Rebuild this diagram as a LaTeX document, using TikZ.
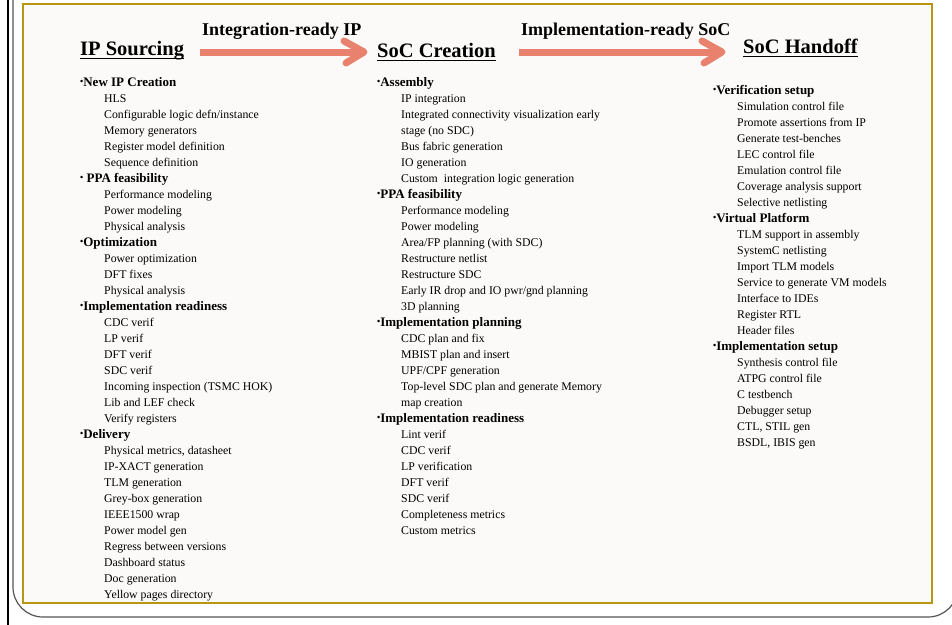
\documentclass[tikz,border=0pt]{standalone}
\usepackage{fontspec}
\setmainfont{Liberation Serif}
\definecolor{gold}{HTML}{B8960F}
\definecolor{salmon}{HTML}{E8826F}
\definecolor{paper}{HTML}{FBFAF8}
\definecolor{framegray}{HTML}{555555}
\newcommand{\bul}{{\fontsize{9}{9}\selectfont\raisebox{0.22em}{•}}}
\newcommand{\Cat}[4]{\node[cat] (#1) at (#2,#3) {\bul#4};}
\newcommand{\Itm}[4]{\node[item] (#1) at (#2,#3) {#4};}
\begin{document}
\begin{tikzpicture}[x=1pt,y=-1pt,
  item/.style={anchor=base west, inner sep=0pt, font=\fontsize{11.8}{14}\selectfont},
  cat/.style={anchor=base west, inner sep=0pt, font=\fontsize{13}{15}\selectfont\bfseries},
  title/.style={anchor=base west, inner sep=0pt, font=\fontsize{20.5}{24}\selectfont\bfseries},
  flowlabel/.style={anchor=base west, inner sep=0pt, font=\fontsize{18}{22}\selectfont\bfseries},
  shaft/.style={draw=salmon, line width=7pt},
  arrowhead/.style={draw=salmon, line width=7pt, line cap=round, line join=round},
  uline/.style={draw=black, line width=1.6pt}]
\useasboundingbox (0,0) rectangle (952,624);
\begin{scope}
\clip (0,0) rectangle (952,624);
\fill[white] (0,0) rectangle (952,624);
\draw[black, line width=2pt] (7.5,-5) -- (7.5,630);
\draw[framegray, line width=1.2pt, rounded corners=30pt] (13,-60) -- (13,617) -- (958,617) -- (958,-60);
\draw[gold, line width=2.8pt, fill=paper] (23,4) rectangle (932,603);
\end{scope}

% titles
\node[title] (t1) at (80,55) {IP Sourcing};
\node[title] (t2) at (377,57) {SoC Creation};
\node[title] (t3) at (743,53) {SoC Handoff};
\foreach \n in {t1,t2,t3}
  \draw[uline] ([yshift=-3.5pt]\n.base west) -- ([yshift=-3.5pt]\n.base east);

\node[flowlabel] (l1) at (202,35) {Integration-ready IP};
\node[flowlabel] (l2) at (521,35) {Implementation-ready SoC};

% arrows
\coordinate (a1s) at (200,52);
\coordinate (a1t) at (364,52);
\coordinate (a1u) at (344,41);
\coordinate (a1d) at (346,63);
\coordinate (a2s) at (519,52);
\coordinate (a2t) at (722,52);
\coordinate (a2u) at (702,41);
\coordinate (a2d) at (704,63);
\draw[shaft] (a1s) -- (a1t);
\draw[arrowhead] (a1u) -- (a1t) -- (a1d);
\draw[shaft] (a2s) -- (a2t);
\draw[arrowhead] (a2u) -- (a2t) -- (a2d);

% column 1
\Cat{c1a}{80}{86}{New IP Creation}
\Itm{c1a1}{104}{102}{HLS}
\Itm{c1a2}{104}{118}{Configurable logic defn/instance}
\Itm{c1a3}{104}{134}{Memory generators}
\Itm{c1a4}{104}{150}{Register model definition}
\Itm{c1a5}{104}{166}{Sequence definition}
\Cat{c1b}{80}{182}{ PPA feasibility}
\Itm{c1b1}{104}{198}{Performance modeling}
\Itm{c1b2}{104}{214}{Power modeling}
\Itm{c1b3}{104}{230}{Physical analysis}
\Cat{c1c}{80}{246}{Optimization}
\Itm{c1c1}{104}{262}{Power optimization}
\Itm{c1c2}{104}{278}{DFT fixes}
\Itm{c1c3}{104}{294}{Physical analysis}
\Cat{c1d}{80}{310}{Implementation readiness}
\Itm{c1d1}{104}{326}{CDC verif}
\Itm{c1d2}{104}{342}{LP verif}
\Itm{c1d3}{104}{358}{DFT verif}
\Itm{c1d4}{104}{374}{SDC verif}
\Itm{c1d5}{104}{390}{Incoming inspection (TSMC HOK)}
\Itm{c1d6}{104}{406}{Lib and LEF check}
\Itm{c1d7}{104}{422}{Verify registers}
\Cat{c1e}{80}{438}{Delivery}
\Itm{c1e1}{104}{454}{Physical metrics, datasheet}
\Itm{c1e2}{104}{470}{IP-XACT generation}
\Itm{c1e3}{104}{486}{TLM generation}
\Itm{c1e4}{104}{502}{Grey-box generation}
\Itm{c1e5}{104}{518}{IEEE1500 wrap}
\Itm{c1e6}{104}{534}{Power model gen}
\Itm{c1e7}{104}{550}{Regress between versions}
\Itm{c1e8}{104}{566}{Dashboard status}
\Itm{c1e9}{104}{582}{Doc generation}
\Itm{c1e10}{104}{598}{Yellow pages directory}

% column 2
\Cat{c2a}{377}{86}{Assembly}
\Itm{c2a1}{401}{102}{IP integration}
\Itm{c2a2}{401}{118}{Integrated connectivity visualization early}
\Itm{c2a3}{401}{134}{stage (no SDC)}
\Itm{c2a4}{401}{150}{Bus fabric generation}
\Itm{c2a5}{401}{166}{IO generation}
\Itm{c2a6}{401}{182}{Custom\ \ integration logic generation}
\Cat{c2b}{377}{198}{PPA feasibility}
\Itm{c2b1}{401}{214}{Performance modeling}
\Itm{c2b2}{401}{230}{Power modeling}
\Itm{c2b3}{401}{246}{Area/FP planning (with SDC)}
\Itm{c2b4}{401}{262}{Restructure netlist}
\Itm{c2b5}{401}{278}{Restructure SDC}
\Itm{c2b6}{401}{294}{Early IR drop and IO pwr/gnd planning}
\Itm{c2b7}{401}{310}{3D planning}
\Cat{c2c}{377}{326}{Implementation planning}
\Itm{c2c1}{401}{342}{CDC plan and fix}
\Itm{c2c2}{401}{358}{MBIST plan and insert}
\Itm{c2c3}{401}{374}{UPF/CPF generation}
\Itm{c2c4}{401}{390}{Top-level SDC plan and generate Memory}
\Itm{c2c5}{401}{406}{map creation}
\Cat{c2d}{377}{422}{Implementation readiness}
\Itm{c2d1}{401}{438}{Lint verif}
\Itm{c2d2}{401}{454}{CDC verif}
\Itm{c2d3}{401}{470}{LP verification}
\Itm{c2d4}{401}{486}{DFT verif}
\Itm{c2d5}{401}{502}{SDC verif}
\Itm{c2d6}{401}{518}{Completeness metrics}
\Itm{c2d7}{401}{534}{Custom metrics}

% column 3
\Cat{c3a}{713}{94}{Verification setup}
\Itm{c3a1}{737}{110}{Simulation control file}
\Itm{c3a2}{737}{126}{Promote assertions from IP}
\Itm{c3a3}{737}{142}{Generate test-benches}
\Itm{c3a4}{737}{158}{LEC control file}
\Itm{c3a5}{737}{174}{Emulation control file}
\Itm{c3a6}{737}{190}{Coverage analysis support}
\Itm{c3a7}{737}{206}{Selective netlisting}
\Cat{c3b}{713}{222}{Virtual Platform}
\Itm{c3b1}{737}{238}{TLM support in assembly}
\Itm{c3b2}{737}{254}{SystemC netlisting}
\Itm{c3b3}{737}{270}{Import TLM models}
\Itm{c3b4}{737}{286}{Service to generate VM models}
\Itm{c3b5}{737}{302}{Interface to IDEs}
\Itm{c3b6}{737}{318}{Register RTL}
\Itm{c3b7}{737}{334}{Header files}
\Cat{c3c}{713}{350}{Implementation setup}
\Itm{c3c1}{737}{366}{Synthesis control file}
\Itm{c3c2}{737}{382}{ATPG control file}
\Itm{c3c3}{737}{398}{C testbench}
\Itm{c3c4}{737}{414}{Debugger setup}
\Itm{c3c5}{737}{430}{CTL, STIL gen}
\Itm{c3c6}{737}{446}{BSDL, IBIS gen}
\end{tikzpicture}
\end{document}
